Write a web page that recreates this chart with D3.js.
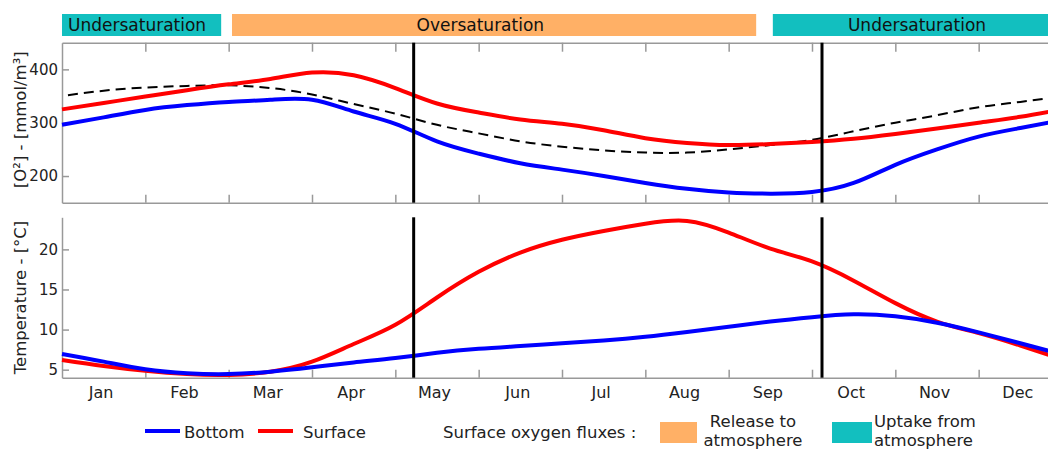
<!DOCTYPE html>
<html lang="en">
    <head>
        <meta charset="UTF-8">
        <title>Oxygen and temperature</title>
        <script src="https://d3js.org/d3.v7.min.js"></script>
        <style>
            body {
                margin: 0;
                overflow: hidden;
                background: white;
            }
            text {
                font-family: "DejaVu Sans", sans-serif;
                fill: #222;
            }
            .axis path, .axis line {
                stroke: #999;
                stroke-width: 1.5;
            }
        </style>
    </head>
    <body>
        <script>
            const width = 1048
            const height = 450

            // time in months since 1 Jan, half-month steps
            const months = ['Jan', 'Feb', 'Mar', 'Apr', 'May', 'Jun', 'Jul', 'Aug', 'Sep', 'Oct', 'Nov', 'Dec']
            const time = [0, 0.5, 1, 1.5, 2, 2.5, 3, 3.5, 4, 4.5, 5, 5.5, 6, 6.5, 7, 7.5, 8, 8.5, 9, 9.5, 10, 10.5, 11, 11.5, 12]

            const o2Surface = [325, 337, 349, 361, 372, 382, 394, 389, 365, 336, 319, 306, 298, 286, 271, 262, 258, 260, 264, 270, 279, 289, 300, 311, 325]
            const o2Bottom = [296, 310, 324, 333, 339, 343, 343, 321, 298, 265, 242, 224, 212, 200, 187, 176, 169, 167, 170, 187, 221, 250, 274, 290, 305]
            const o2Saturation = [350, 360, 366, 369, 370, 365, 353, 335, 317, 296, 280, 265, 255, 248, 244, 244, 250, 258, 268, 284, 300, 314, 329, 339, 350]

            const tempSurface = [6.2, 5.45, 4.85, 4.45, 4.35, 4.75, 6.0, 8.2, 10.6, 14.0, 17.2, 19.6, 21.2, 22.3, 23.2, 23.55, 22.1, 20.1, 18.5, 16.1, 13.3, 11.0, 9.55, 8.0, 6.3]
            const tempBottom = [6.95, 6.0, 5.05, 4.55, 4.45, 4.75, 5.3, 5.9, 6.45, 7.1, 7.6, 7.95, 8.3, 8.65, 9.1, 9.7, 10.35, 11.0, 11.55, 11.9, 11.65, 10.85, 9.65, 8.3, 6.9]

            // saturation periods (months)
            const bandLabels = ['Undersaturation', 'Oversaturation', 'Undersaturation']
            const bandStart = [0, 2.04, 8.53]
            const bandEnd = [1.91, 8.33, 12]
            const bandKind = ['uptake', 'release', 'uptake']
            const bandTextAt = [null, 5.02, 10.26]

            const markers = [4.22, 9.12]
            const o2Ticks = [200, 300, 400]
            const tempTicks = [5, 10, 15, 20]

            const teal = '#12bfbf'
            const orange = '#ffb066'
            const fluxColor = {uptake: teal, release: orange}

            const svg = d3.select('body').append('svg')
                .attr('width', width)
                .attr('height', height)

            const x = d3.scaleLinear().domain([0, 12]).range([62, 1062])
            const yO2 = d3.scaleLinear().domain([150, 450]).range([202.7, 42.7])
            const yT = d3.scaleLinear().domain([4, 24]).range([377.7, 217.3])

            // bands at the top
            const gBands = svg.append('g')
            gBands.selectAll('rect')
                .data(bandLabels)
                .enter()
                .append('rect')
                .attr('x', (d, i) => x(bandStart[i]))
                .attr('width', (d, i) => x(bandEnd[i]) - x(bandStart[i]))
                .attr('y', 14)
                .attr('height', 22)
                .attr('fill', (d, i) => fluxColor[bandKind[i]])
            gBands.selectAll('text')
                .data(bandLabels)
                .enter()
                .append('text')
                .text(d => d)
                .attr('x', (d, i) => bandTextAt[i] === null ? x(bandStart[i]) + 6 : x(bandTextAt[i]))
                .attr('text-anchor', (d, i) => bandTextAt[i] === null ? 'start' : 'middle')
                .attr('y', 31)
                .style('font-size', '17px')
                .style('fill', '#111')

            // top panel axes
            const gTop = svg.append('g')
            gTop.append('g').attr('class', 'axis')
                .attr('transform', `translate(0,${yO2.range()[1]})`)
                .call(d3.axisTop(x).tickValues(d3.range(1, 12)).tickSize(-9).tickSizeOuter(0).tickFormat(''))
            gTop.append('g').attr('class', 'axis')
                .attr('transform', `translate(0,${yO2.range()[0]})`)
                .call(d3.axisBottom(x).tickValues(d3.range(1, 12)).tickSize(-8).tickSizeOuter(0).tickFormat(''))
            gTop.append('g').attr('class', 'axis')
                .attr('transform', `translate(${x(0)},0)`)
                .call(d3.axisLeft(yO2).tickValues(o2Ticks).tickSize(-7).tickSizeOuter(0).tickPadding(4))
                .call(g => g.selectAll('text').style('font-size', '15px').style('fill', '#222'))

            // bottom panel axes
            const gBot = svg.append('g')
            gBot.append('g').attr('class', 'axis')
                .attr('transform', `translate(0,${yT.range()[0]})`)
                .call(d3.axisBottom(x).tickValues(d3.range(1, 12)).tickSize(-8).tickSizeOuter(0).tickFormat(''))
            gBot.append('g').attr('class', 'axis')
                .attr('transform', `translate(${x(0)},0)`)
                .call(d3.axisLeft(yT).tickValues(tempTicks).tickSize(-7).tickSizeOuter(0).tickPadding(4))
                .call(g => g.selectAll('text').style('font-size', '15px').style('fill', '#222'))
            gBot.selectAll('.month')
                .data(months)
                .enter()
                .append('text')
                .attr('class', 'month')
                .text(d => d)
                .attr('x', (d, i) => x(i + 0.47))
                .attr('y', 398)
                .attr('text-anchor', 'middle')
                .style('font-size', '16px')

            // axis titles
            svg.append('text')
                .attr('transform', `translate(26,${(yO2(150) + yO2(450)) / 2 - 3}) rotate(-90)`)
                .attr('text-anchor', 'middle')
                .style('font-size', '16.5px')
                .text('[O²] - [mmol/m³]')
            svg.append('text')
                .attr('transform', `translate(26,${(yT(4) + yT(24)) / 2}) rotate(-90)`)
                .attr('text-anchor', 'middle')
                .style('font-size', '16.5px')
                .text('Temperature - [°C]')

            // curves
            const lineO2 = d3.line()
                .x((d, i) => x(time[i]))
                .y(d => yO2(d))
                .curve(d3.curveNatural)
            const lineT = d3.line()
                .x((d, i) => x(time[i]))
                .y(d => yT(d))
                .curve(d3.curveNatural)

            svg.append('path').datum(o2Saturation)
                .attr('d', lineO2).attr('fill', 'none')
                .attr('stroke', 'black').attr('stroke-width', 2)
                .attr('stroke-dasharray', '10,6')
                .attr('stroke-dashoffset', -6)
            svg.append('path').datum(o2Bottom)
                .attr('d', lineO2).attr('fill', 'none')
                .attr('stroke', 'blue').attr('stroke-width', 4)
            svg.append('path').datum(o2Surface)
                .attr('d', lineO2).attr('fill', 'none')
                .attr('stroke', 'red').attr('stroke-width', 4)

            svg.append('path').datum(tempSurface)
                .attr('d', lineT).attr('fill', 'none')
                .attr('stroke', 'red').attr('stroke-width', 4)
            svg.append('path').datum(tempBottom)
                .attr('d', lineT).attr('fill', 'none')
                .attr('stroke', 'blue').attr('stroke-width', 4)

            // regime change markers
            markers.forEach(m => {
                svg.append('line')
                    .attr('x1', x(m)).attr('x2', x(m))
                    .attr('y1', yO2.range()[1]).attr('y2', yO2.range()[0])
                    .attr('stroke', 'black').attr('stroke-width', 3)
                svg.append('line')
                    .attr('x1', x(m)).attr('x2', x(m))
                    .attr('y1', yT.range()[1]).attr('y2', yT.range()[0])
                    .attr('stroke', 'black').attr('stroke-width', 3)
            })

            // legend
            const gLeg = svg.append('g')
            const lineItems = [['Bottom', 'blue', 145, 184], ['Surface', 'red', 258, 303]]
            lineItems.forEach(([name, col, lx, tx]) => {
                gLeg.append('line')
                    .attr('x1', lx).attr('x2', lx + 35)
                    .attr('y1', 431).attr('y2', 431)
                    .attr('stroke', col).attr('stroke-width', 4)
                gLeg.append('text')
                    .attr('x', tx).attr('y', 438)
                    .style('font-size', '16.5px')
                    .text(name)
            })
            gLeg.append('text')
                .attr('x', 443).attr('y', 438)
                .style('font-size', '16.5px')
                .text('Surface oxygen fluxes :')

            gLeg.append('rect')
                .attr('x', 660).attr('y', 422).attr('width', 37).attr('height', 21)
                .attr('fill', orange)
            gLeg.append('text')
                .attr('x', 753).attr('y', 427)
                .attr('text-anchor', 'middle')
                .style('font-size', '16.5px')
                .call(t => t.append('tspan').attr('x', 753).text('Release to'))
                .call(t => t.append('tspan').attr('x', 753).attr('dy', 19).text('atmosphere'))

            gLeg.append('rect')
                .attr('x', 832).attr('y', 422).attr('width', 40).attr('height', 21)
                .attr('fill', teal)
            gLeg.append('text')
                .attr('x', 874).attr('y', 427)
                .style('font-size', '16.5px')
                .call(t => t.append('tspan').attr('x', 874).text('Uptake from'))
                .call(t => t.append('tspan').attr('x', 874).attr('dy', 19).text('atmosphere'))
        </script>
    </body>
</html>
